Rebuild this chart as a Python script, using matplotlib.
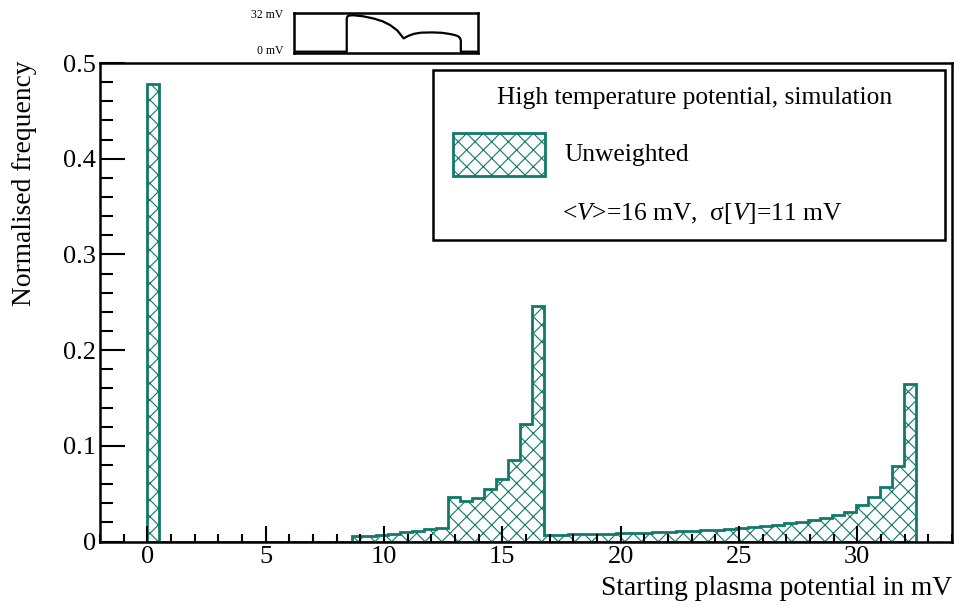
import matplotlib
matplotlib.use("Agg")
import matplotlib.pyplot as plt
from matplotlib.patches import Rectangle
from matplotlib.ticker import MultipleLocator
import numpy as np

plt.rcParams['font.family'] = ['Liberation Serif', 'DejaVu Serif']
plt.rcParams['hatch.linewidth'] = 0.8
plt.rcParams['mathtext.fontset'] = 'custom'
plt.rcParams['mathtext.rm'] = 'Liberation Serif'
plt.rcParams['mathtext.it'] = 'Liberation Serif:italic'

teal = '#117a68'

# histogram: 64 bins between 0 and 32.5 mV
v_lo, v_hi, n_bins = 0.0, 32.5, 64
freq = [
    0.478, 0, 0, 0, 0, 0, 0, 0, 0, 0, 0, 0, 0, 0, 0, 0,
    0, 0.0060, 0.0062, 0.0069, 0.0083, 0.0097, 0.0113, 0.0130,
    0.0144, 0.0468, 0.0423, 0.0459, 0.0548, 0.0656, 0.0857, 0.1226,
    0.2460, 0.0068, 0.0072, 0.0075, 0.0078, 0.0079, 0.0082, 0.0085,
    0.0089, 0.0092, 0.0096, 0.0099, 0.0106, 0.0110, 0.0117, 0.0123,
    0.0130, 0.0141, 0.0151, 0.0162, 0.0172, 0.0193, 0.0207, 0.0224,
    0.0249, 0.0273, 0.0311, 0.0381, 0.0468, 0.0572, 0.0788, 0.1650,
]

# potential profile shown in the small panel above the plot
prof_x = [0.0, 0.285, 0.285, 0.29, 0.30, 0.32, 0.37, 0.43, 0.48, 0.52, 0.56, 0.594,
          0.62, 0.65, 0.69, 0.75, 0.80, 0.84, 0.87, 0.89, 0.90, 0.905, 0.905, 1.0]
prof_v = [0.0, 0.0, 29.0, 31.0, 31.6, 31.8, 31.0, 29.0, 26.5, 23.3, 18.5, 11.6,
          13.8, 15.6, 16.6, 16.8, 16.5, 15.6, 14.6, 13.5, 12.0, 10.0, 0.0, 0.0]

mean_v, sigma_v = 16, 11

edges = np.linspace(v_lo, v_hi, n_bins + 1)

fig = plt.figure(figsize=(9.61, 6.06), dpi=100)
ax = fig.add_axes([0.104, 0.1064, 0.8866, 0.7896])

ax.hist(edges[:-1], bins=edges, weights=freq, histtype='stepfilled',
        facecolor='white', edgecolor=teal, linewidth=2.0, hatch='xx')

ax.set_xlim(-2, 34)
ax.set_ylim(0, 0.5)
ax.xaxis.set_major_locator(MultipleLocator(5))
ax.xaxis.set_minor_locator(MultipleLocator(1))
ax.yaxis.set_major_locator(MultipleLocator(0.1))
ax.yaxis.set_minor_locator(MultipleLocator(0.02))
ax.yaxis.set_major_formatter(plt.FuncFormatter(lambda v, p: '0' if v == 0 else f'{v:.1f}'))
ax.tick_params(axis='both', which='both', direction='in', width=1.5, labelsize=19,
               top=False, right=False)
ax.tick_params(axis='x', which='major', length=11.5, pad=3)
ax.tick_params(axis='x', which='minor', length=5.8)
ax.tick_params(axis='y', which='major', length=18, pad=3)
ax.tick_params(axis='y', which='minor', length=9.5)
for s in ax.spines.values():
    s.set_linewidth(1.8)
    s.set_zorder(5)

ax.set_xlabel('Starting plasma potential in mV', fontsize=19.8, ha='right', x=1.0)
ax.xaxis.set_label_coords(1.0, -0.072)
fig.text(25 / 961, 1 - 60 / 606, 'Normalised frequency', fontsize=19.8,
         rotation=90, ha='center', va='top')

# legend box
lx0, ly0, lx1, ly1 = 433 / 961, 1 - 240 / 606, 945 / 961, 1 - 70 / 606
fig.patches.append(Rectangle((lx0, ly0), lx1 - lx0, ly1 - ly0, transform=fig.transFigure,
                             facecolor='white', edgecolor='black', linewidth=1.8, zorder=10))
fig.text((lx0 + lx1) / 2 + 0.006, 1 - 98 / 606, 'High temperature potential, simulation',
         fontsize=18.4, ha='center', va='center', zorder=11)
fig.patches.append(Rectangle((453 / 961, 1 - 176 / 606), 92 / 961, 43 / 606,
                             transform=fig.transFigure, facecolor='white', edgecolor=teal,
                             linewidth=2.0, hatch='xx', zorder=11))
fig.text(565 / 961, 1 - 155 / 606, 'Unweighted', fontsize=18.4, ha='left', va='center', zorder=11)
fig.text(562 / 961, 1 - 213 / 606,
         r'<$\mathit{V}$>=' + f'{mean_v} mV,  σ[' + r'$\mathit{V}$' + f']={sigma_v} mV',
         fontsize=18.4, ha='left', va='center', zorder=11)

# small panel with the potential shape
ins = fig.add_axes([294.3 / 961, 1 - 52.7 / 606, 184 / 961, 39.4 / 606])
ins.plot(prof_x, prof_v, color='black', linewidth=1.6)
ins.set_xlim(0, 1)
ins.set_ylim(-0.9, 33.5)
ins.set_xticks([])
ins.set_yticks([])
for s in ins.spines.values():
    s.set_linewidth(1.8)
ins.text(-0.06, 32, '32 mV', transform=ins.transData, fontsize=8.5, ha='right', va='center')
ins.text(-0.06, 0.5, '0 mV', transform=ins.transData, fontsize=8.5, ha='right', va='center')

fig.savefig('out.png', dpi=100)
